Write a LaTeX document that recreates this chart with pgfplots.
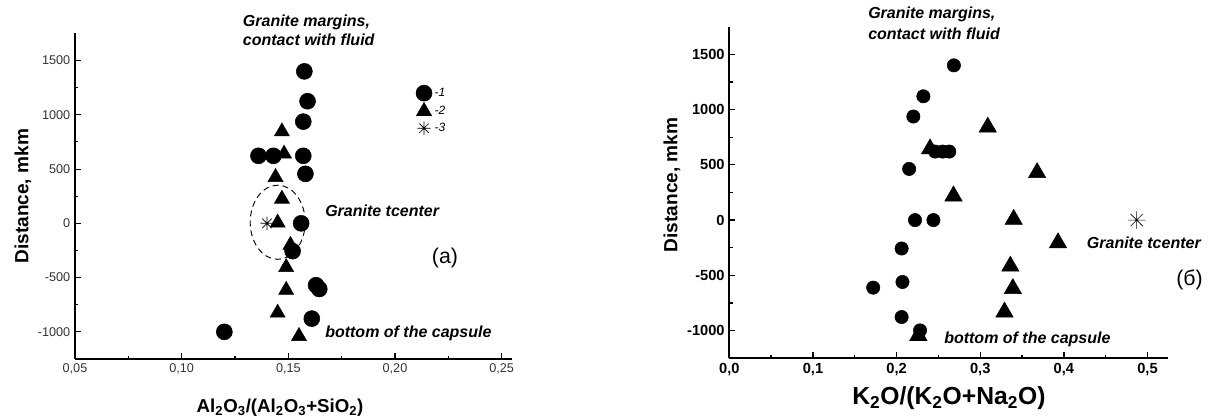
\documentclass[border=0pt]{standalone}
\usepackage{fontspec}
\setmainfont{Liberation Sans}
\usepackage{pgfplots}
\pgfplotsset{compat=1.18}
\pgfdeclareplotmark{star8}{%
  \pgfpathmoveto{\pgfqpoint{-\pgfplotmarksize}{0pt}}\pgfpathlineto{\pgfqpoint{\pgfplotmarksize}{0pt}}%
  \pgfpathmoveto{\pgfqpoint{0pt}{-\pgfplotmarksize}}\pgfpathlineto{\pgfqpoint{0pt}{\pgfplotmarksize}}%
  \pgfpathmoveto{\pgfqpoint{-.7071\pgfplotmarksize}{-.7071\pgfplotmarksize}}\pgfpathlineto{\pgfqpoint{.7071\pgfplotmarksize}{.7071\pgfplotmarksize}}%
  \pgfpathmoveto{\pgfqpoint{-.7071\pgfplotmarksize}{.7071\pgfplotmarksize}}\pgfpathlineto{\pgfqpoint{.7071\pgfplotmarksize}{-.7071\pgfplotmarksize}}%
  \pgfusepathqstroke}
\pgfplotsset{
  common/.style={
    scale only axis,
    axis x line*=bottom, axis y line*=left,
    ymin=-1250, ymax=1750,
    ytick={-1000,-500,0,500,1000,1500},
    minor ytick={-1250,-750,-250,250,750,1250},
    tick align=inside,
    major tick length=4.5pt, minor tick length=2.5pt,
    /pgf/number format/assume math mode=true,
    yticklabel style={/pgf/number format/1000 sep={}},
    every axis plot/.append style={black},
    clip=false,
  }
}
\begin{document}
\begin{tikzpicture}
\useasboundingbox (0,0) rectangle (912pt,315pt);

% ---------------- left panel ----------------
\begin{axis}[common,
  at={(56.25pt,45.75pt)}, anchor=south west,
  width=328pt, height=244.2pt,
  xmin=0.05, xmax=0.255,
  axis line style={line width=0.9pt},
  tick style={line width=0.8pt, black},
  xtick={0.05,0.1,0.15,0.2,0.25},
  minor xtick={0.075,0.125,0.175,0.225},
  xticklabel style={/pgf/number format/fixed, /pgf/number format/fixed zerofill,
    /pgf/number format/precision=2, /pgf/number format/use comma},
  ticklabel style={font=\fontsize{9.5}{11}\selectfont, text=black!80},
  xlabel={Al\textsubscript{2}O\textsubscript{3}/(Al\textsubscript{2}O\textsubscript{3}+SiO\textsubscript{2})},
  xlabel style={at={(axis description cs:0.469,-0.150)}, anchor=center, font=\bfseries\fontsize{14}{16}\selectfont},
  ylabel={Distance, mkm},
  ylabel style={at={(axis description cs:-0.119,0.5)}, anchor=center, font=\bfseries\fontsize{14.3}{16}\selectfont},
  legend style={draw=none, fill=none, at={(axis description cs:0.77,0.85)}, anchor=north west,
    font=\itshape\fontsize{9}{10}\selectfont, row sep=1pt},
  legend cell align=left,
]
\addplot[only marks, mark=*, mark size=6pt] coordinates {
 (0.1575,1400) (0.159,1125) (0.157,937) (0.136,622) (0.143,622) (0.157,622)
 (0.158,456) (0.156,0) (0.152,-256) (0.163,-570) (0.1645,-605) (0.161,-878) (0.120,-1000)};
\addplot[only marks, mark=triangle*, mark size=6.5pt] coordinates {
 (0.147,845) (0.148,640) (0.144,425) (0.147,225) (0.145,5) (0.151,-200)
 (0.149,-405) (0.149,-615) (0.145,-825) (0.155,-1040)};
\addplot[only marks, mark=star8, mark size=5pt, line width=0.5pt] coordinates {(0.140,0)};
\legend{-1,-2,-3}
\draw[dashed, dash pattern=on 4.5pt off 3pt, line width=0.7pt] (axis cs:0.145,10) ellipse [x radius=20.6pt, y radius=27.8pt];
\end{axis}

% ---------------- right panel ----------------
\begin{axis}[common,
  at={(547pt,46.3pt)}, anchor=south west,
  width=329.3pt, height=248.7pt,
  xmin=0, xmax=0.525,
  axis line style={line width=1.3pt},
  tick style={line width=1pt, black},
  xtick={0,0.1,0.2,0.3,0.4,0.5},
  minor xtick={0.05,0.15,0.25,0.35,0.45},
  xticklabel style={/pgf/number format/fixed, /pgf/number format/fixed zerofill,
    /pgf/number format/precision=1, /pgf/number format/use comma},
  ticklabel style={font=\bfseries\fontsize{11}{12}\selectfont},
  xlabel={K\textsubscript{2}O/(K\textsubscript{2}O+Na\textsubscript{2}O)},
  xlabel style={at={(axis description cs:0.5,-0.12)}, anchor=center, font=\bfseries\fontsize{18.5}{20}\selectfont},
  ylabel={Distance, mkm},
  ylabel style={at={(axis description cs:-0.131,0.523)}, anchor=center, font=\bfseries\fontsize{14.3}{16}\selectfont},
]
\addplot[only marks, mark=*, mark size=5pt] coordinates {
 (0.2685,1400) (0.232,1120) (0.220,937) (0.246,620) (0.255,620) (0.263,620)
 (0.215,463) (0.222,0) (0.244,0) (0.206,-257) (0.207,-560) (0.172,-611) (0.206,-877) (0.228,-998)};
\addplot[only marks, mark=triangle*, mark size=7.5pt] coordinates {
 (0.309,841) (0.240,644) (0.368,429) (0.268,218) (0.340,6) (0.393,-206)
 (0.336,-417) (0.339,-620) (0.329,-832) (0.226,-1044)};
\addplot[only marks, mark=star8, mark size=6.5pt, line width=0.5pt] coordinates {(0.487,0)};
\end{axis}

% ---------------- annotations ----------------
\begin{scope}[every node/.style={inner sep=0pt, font=\bfseries\itshape\fontsize{12}{14}\selectfont}]
\node[anchor=base west] at (182pt,295.1pt) {Granite margins,};
\node[anchor=base west] at (182pt,280.7pt) {contact with fluid};
\node[anchor=base west] at (243.75pt,152.6pt) {Granite tcenter};
\node[anchor=base west] at (243.75pt,61.5pt) {bottom of the capsule};
\node[anchor=base west] at (651pt,300.75pt) {Granite margins,};
\node[anchor=base west] at (651pt,285pt) {contact with fluid};
\node[anchor=base west] at (815pt,128.25pt) {Granite tcenter};
\node[anchor=base west] at (708pt,57pt) {bottom of the capsule};
\end{scope}
\node[font=\fontsize{16}{18}\selectfont, inner sep=0pt] at (333.75pt,121.5pt) {(a)};
\node[font=\fontsize{16}{18}\selectfont, inner sep=0pt] at (892.1pt,105pt) {(б)};
\end{tikzpicture}
\end{document}
